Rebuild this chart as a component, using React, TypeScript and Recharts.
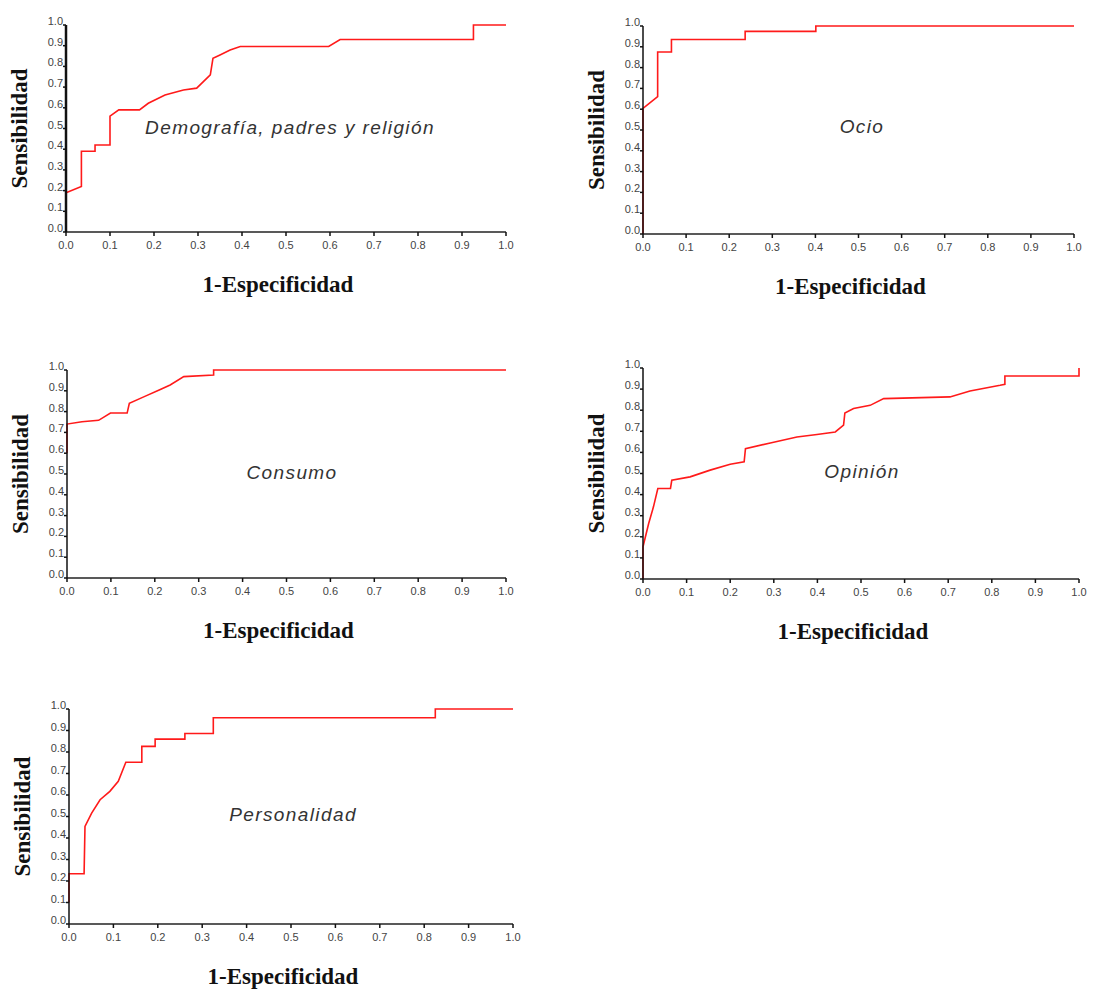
import { LineChart, Line, XAxis, YAxis } from "recharts";

const axisTicks = [0, 0.1, 0.2, 0.3, 0.4, 0.5, 0.6, 0.7, 0.8, 0.9, 1.0];

// Demografía, padres y religión
const demoFpr = [0, 0, 0.035, 0.035, 0.066, 0.066, 0.1, 0.1, 0.12, 0.167, 0.187, 0.225, 0.267, 0.297, 0.328, 0.334, 0.35, 0.373, 0.396, 0.597, 0.623, 0.926, 0.926, 1];
const demoTpr = [0, 0.19, 0.22, 0.39, 0.39, 0.42, 0.42, 0.56, 0.59, 0.59, 0.622, 0.662, 0.686, 0.695, 0.759, 0.839, 0.855, 0.879, 0.896, 0.896, 0.93, 0.93, 1, 1];

// Ocio
const ocioFpr = [0, 0, 0.034, 0.034, 0.066, 0.066, 0.237, 0.237, 0.401, 0.401, 1];
const ocioTpr = [0, 0.604, 0.66, 0.875, 0.875, 0.935, 0.935, 0.974, 0.974, 1, 1];

// Consumo
const consFpr = [0, 0, 0.034, 0.072, 0.099, 0.137, 0.142, 0.176, 0.21, 0.235, 0.266, 0.334, 0.334, 1];
const consTpr = [0.6, 0.74, 0.751, 0.758, 0.793, 0.793, 0.84, 0.872, 0.904, 0.928, 0.968, 0.976, 1, 1];

// Opinión
const opinFpr = [0, 0, 0.013, 0.024, 0.034, 0.063, 0.066, 0.108, 0.154, 0.2, 0.232, 0.235, 0.292, 0.353, 0.399, 0.441, 0.46, 0.463, 0.483, 0.521, 0.552, 0.704, 0.75, 0.819, 0.83, 0.83, 1, 1];
const opinTpr = [0, 0.153, 0.263, 0.342, 0.429, 0.429, 0.468, 0.484, 0.516, 0.544, 0.555, 0.618, 0.645, 0.673, 0.685, 0.697, 0.729, 0.787, 0.808, 0.823, 0.855, 0.863, 0.891, 0.918, 0.923, 0.962, 0.962, 1];

// Personalidad
const persFpr = [0, 0, 0.034, 0.036, 0.051, 0.07, 0.092, 0.111, 0.128, 0.164, 0.164, 0.194, 0.194, 0.261, 0.261, 0.325, 0.325, 0.825, 0.825, 1];
const persTpr = [0.1, 0.234, 0.234, 0.454, 0.516, 0.578, 0.617, 0.664, 0.752, 0.752, 0.826, 0.826, 0.86, 0.86, 0.886, 0.886, 0.959, 0.959, 1, 1];

const toPoints = (fpr: number[], tpr: number[]) => fpr.map((x, i) => ({ x, y: tpr[i] }));

const Y_W = 62;
const X_H = 66;
const M = { top: 12, right: 15, left: 0, bottom: 0 };
const tickFont = "'Liberation Sans', Arial, sans-serif";
const titleFont = "'Liberation Serif', 'Times New Roman', serif";
const titleStyle = { fontFamily: titleFont, fontWeight: 700, fontSize: 23, fill: "#111" };

const YTick = ({ x, y, payload }: any) => (
  <text x={x} y={y - 4} textAnchor="end" dominantBaseline="central" fontSize={11} fill="#444" fontFamily={tickFont}>
    {payload.value.toFixed(1)}
  </text>
);

const XTick = ({ x, y, payload }: any) => (
  <text x={x} y={y + 5} textAnchor="middle" dominantBaseline="central" fontSize={11} fill="#444" fontFamily={tickFont}>
    {payload.value.toFixed(1)}
  </text>
);

function RocPanel({ fpr, tpr, name, box, namePos, yAxisWidth = 1.5 }: {
  fpr: number[]; tpr: number[]; name: string;
  box: [number, number, number, number]; namePos: [number, number]; yAxisWidth?: number;
}) {
  const [l, t, r, b] = box;
  const width = r - l + Y_W + M.right;
  const height = b - t + M.top + X_H;
  return (
    <>
      <div style={{ position: "absolute", left: l - Y_W, top: t - M.top }}>
        <LineChart width={width} height={height} data={toPoints(fpr, tpr)} margin={M}>
          <XAxis
            dataKey="x" type="number" domain={[0, 1]} ticks={axisTicks} interval={0}
            height={X_H} tickSize={4} tickMargin={4} tick={<XTick />}
            axisLine={{ stroke: "#222", strokeWidth: 1.5 }} tickLine={{ stroke: "#111", strokeWidth: 1.5 }}
            label={{ value: "1-Especificidad", position: "insideBottom", offset: 6, dx: -8, style: titleStyle }}
          />
          <YAxis
            type="number" domain={[0, 1]} ticks={axisTicks} interval={0}
            width={Y_W} tickSize={3} tickMargin={0} tick={<YTick />}
            axisLine={{ stroke: "#111", strokeWidth: yAxisWidth }} tickLine={{ stroke: "#111", strokeWidth: 1.5 }}
            label={{ value: "Sensibilidad", angle: -90, position: "insideLeft", offset: 15,
              style: { ...titleStyle, textAnchor: "middle" } }}
          />
          <Line type="linear" dataKey="y" stroke="#ff1a1a" strokeWidth={1.6} dot={false} isAnimationActive={false} />
        </LineChart>
      </div>
      <div style={{
        position: "absolute", left: namePos[0], top: namePos[1], transform: "translate(-50%, -50%)",
        fontFamily: tickFont, fontStyle: "italic", fontSize: 19, letterSpacing: 1.4, color: "#333", whiteSpace: "nowrap",
      }}>
        {name}
      </div>
    </>
  );
}

export default function App() {
  return (
    <div style={{ position: "absolute", left: 0, top: 0, width: 1117, height: 990, background: "#fff", overflow: "hidden" }}>
      <RocPanel fpr={demoFpr} tpr={demoTpr} name="Demografía, padres y religión" box={[66, 25, 506, 232]} namePos={[290, 128]} yAxisWidth={2.5} />
      <RocPanel fpr={ocioFpr} tpr={ocioTpr} name="Ocio" box={[643, 26, 1074, 234]} namePos={[862, 127]} />
      <RocPanel fpr={consFpr} tpr={consTpr} name="Consumo" box={[67, 370, 506, 578]} namePos={[292, 473]} />
      <RocPanel fpr={opinFpr} tpr={opinTpr} name="Opinión" box={[643, 368, 1079, 579]} namePos={[862, 472]} />
      <RocPanel fpr={persFpr} tpr={persTpr} name="Personalidad" box={[69, 709, 513, 924]} namePos={[293, 815]} />
    </div>
  );
}
